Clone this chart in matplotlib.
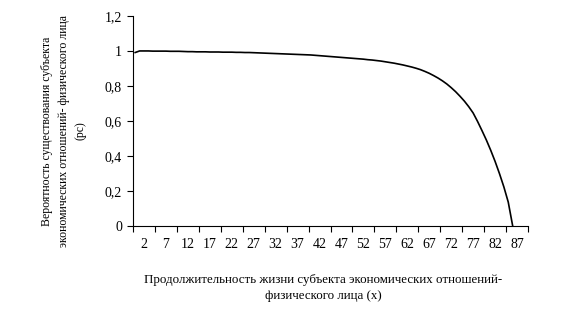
import matplotlib
matplotlib.use("Agg")
import matplotlib.pyplot as plt
from matplotlib.ticker import FixedLocator, NullFormatter

# vozrast (x) i veroyatnost sushchestvovaniya (pc), schitano s grafika
ages = list(range(2, 89))
pc = [
    0.991, 1.000, 1.000, 1.000, 0.999, 0.999, 0.999, 0.999, 0.998, 0.998,
    0.998, 0.997, 0.996, 0.996, 0.995, 0.995, 0.995, 0.994, 0.994, 0.994,
    0.993, 0.993, 0.993, 0.992, 0.992, 0.991, 0.991, 0.990, 0.989, 0.988,
    0.987, 0.986, 0.985, 0.984, 0.983, 0.982, 0.981, 0.980, 0.979, 0.978,
    0.977, 0.975, 0.973, 0.971, 0.969, 0.967, 0.965, 0.963, 0.961, 0.959,
    0.957, 0.955, 0.953, 0.950, 0.948, 0.945, 0.942, 0.938, 0.934, 0.930,
    0.925, 0.920, 0.914, 0.908, 0.901, 0.893, 0.883, 0.872, 0.859, 0.845,
    0.829, 0.811, 0.790, 0.767, 0.741, 0.713, 0.681, 0.645, 0.597, 0.545,
    0.491, 0.432, 0.368, 0.298, 0.222, 0.135, 0.000,
]
tick_labels = [str(v) for v in range(2, 88, 5)]
y_ticks = [0, 0.2, 0.4, 0.6, 0.8, 1.0, 1.2]
y_labels = ["0", "0,2", "0,4", "0,6", "0,8", "1", "1,2"]

plt.rcParams["font.family"] = ["Liberation Serif", "DejaVu Serif"]
plt.rcParams["font.size"] = 10

fig = plt.figure(figsize=(5.62, 3.11), dpi=100)
ax = fig.add_axes([133 / 562, 1 - 225.7 / 311, 395 / 562, 209.7 / 311])

ax.plot(ages, pc, color="black", lw=1.2)

ax.set_xlim(1.5, 91.5)
ax.set_ylim(0, 1.2)

# kategorii kak v Excel: metki mezhdu gruppami, podpisi po centru gruppy
ax.xaxis.set_major_locator(FixedLocator([1.5 + 5 * i for i in range(19)]))
ax.xaxis.set_major_formatter(NullFormatter())
ax.set_xticks([4 + 5 * i for i in range(len(tick_labels))], tick_labels, minor=True)
ax.tick_params(axis="x", which="major", direction="out", length=4, width=0.8)
ax.tick_params(axis="x", which="minor", length=0, pad=9)

ax.set_yticks(y_ticks, y_labels)
ax.tick_params(axis="y", direction="out", length=4, width=0.8, pad=4)

for s in ["top", "right"]:
    ax.spines[s].set_visible(False)
ax.spines["left"].set_linewidth(0.8)
ax.spines["bottom"].set_linewidth(0.8)

fig.text(64 / 562, 1 - 131 / 311,
         "Вероятность существования субъекта\nэкономических отношений- физического лица\n(pc)",
         rotation=90, ha="center", va="center", multialignment="center",
         linespacing=1.5, fontsize=8.5)
fig.text(323 / 562, 1 - 288 / 311,
         "Продолжительность жизни субъекта экономических отношений-\nфизического лица (x)",
         ha="center", va="center", multialignment="center", linespacing=1.35,
         fontsize=9.3)

fig.savefig("out.png", dpi=100)
